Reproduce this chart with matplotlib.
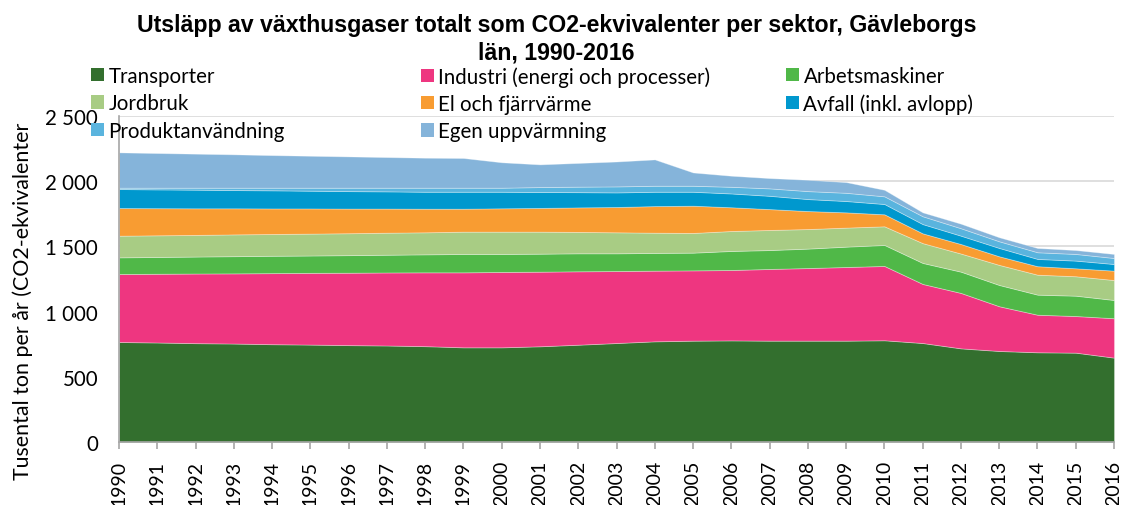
import matplotlib
matplotlib.use("Agg")
import matplotlib.pyplot as plt
from matplotlib.patches import Patch
from matplotlib.ticker import FuncFormatter
import numpy as np

years = list(range(1990, 2017))

transporter = [767, 763, 758, 755, 750, 747, 743, 740, 735, 726, 726, 734, 746, 759,
               772, 777, 779, 777, 777, 777, 780, 759, 718, 698, 688, 685, 647]
industri = [521, 527, 534, 538, 545, 550, 555, 560, 566, 575, 578, 572, 563, 552,
            542, 539, 540, 550, 557, 565, 570, 453, 425, 343, 288, 281, 302]
arbetsmaskiner = [128, 129, 130, 132, 133, 133, 135, 136, 138, 141, 138, 138, 138, 136,
                  136, 136, 146, 145, 149, 156, 161, 161, 163, 163, 154, 156, 140]
jordbruk = [166, 166, 166, 167, 167, 168, 168, 169, 169, 171, 171, 169, 164, 161,
            155, 151, 153, 154, 150, 146, 143, 152, 139, 154, 153, 149, 153]
el_fjarrvarme = [212, 208, 204, 200, 196, 193, 189, 185, 181, 176, 179, 182, 188, 194,
                 204, 209, 182, 160, 138, 117, 92, 75, 73, 66, 65, 61, 72]
avfall = [146, 144, 143, 140, 139, 136, 134, 132, 130, 130, 127, 122, 117, 112,
          110, 107, 106, 102, 92, 87, 79, 71, 64, 64, 56, 59, 51]
produktanvandning = [10, 13, 15, 18, 20, 23, 26, 28, 31, 31, 31, 38, 42, 46,
                     46, 46, 51, 57, 61, 63, 59, 60, 57, 51, 51, 51, 46]
egen_uppvarmning = [271, 266, 261, 256, 250, 245, 240, 235, 230, 228, 195, 174, 182, 191,
                    202, 102, 85, 79, 87, 82, 50, 30, 35, 31, 33, 30, 31]

labels = ["Transporter", "Industri (energi och processer)", "Arbetsmaskiner",
          "Jordbruk", "El och fjärrvärme", "Avfall (inkl. avlopp)",
          "Produktanvändning", "Egen uppvärmning"]
colors = ["#336F2E", "#EE3680", "#50B848", "#A8CC84", "#F89C32", "#0098CE",
          "#5AB4DE", "#85B4DA"]

title = "Utsläpp av växthusgaser totalt som CO2-ekvivalenter per sektor, Gävleborgs\nlän, 1990-2016"
ylabel = "Tusental ton per år (CO2-ekvivalenter"

FONT = ["Lato", "DejaVu Sans"]
plt.rcParams['font.family'] = FONT

fig = plt.figure(figsize=(11.27, 5.06), dpi=100)
ax = fig.add_axes([119/1127, 1 - 443/506, (1114-119)/1127, (443-117)/506])

series = [transporter, industri, arbetsmaskiner, jordbruk, el_fjarrvarme,
          avfall, produktanvandning, egen_uppvarmning]
ax.stackplot(years, *series, colors=colors, linewidth=0.6, edgecolor=(1, 1, 1, 0.35),
             zorder=2)

ax.set_xlim(1990, 2016)
ax.set_ylim(0, 2500)
ax.set_yticks([0, 500, 1000, 1500, 2000, 2500])
ax.yaxis.set_major_formatter(FuncFormatter(lambda v, p: f"{int(v):,}".replace(",", " ")))
ax.set_xticks(years)
ax.set_xticklabels([str(y) for y in years], rotation=90)
ax.grid(axis='y', color="#D9D9D9", linewidth=1.2, zorder=0)
ax.set_axisbelow(True)
for s in ["top", "right"]:
    ax.spines[s].set_visible(False)
for s in ["left", "bottom"]:
    ax.spines[s].set_color("#A6A6A6")
    ax.spines[s].set_linewidth(1.2)
ax.tick_params(axis='y', length=0, pad=15, labelsize=14.8)
ax.tick_params(axis='x', length=5, color="#A6A6A6", width=1.2, pad=8, labelsize=14)

fig.text(556.5/1127, 1 - 39.5/506, title, ha="center", va="center", fontsize=16.7,
         fontweight="bold", family=["Liberation Sans", "DejaVu Sans"], linespacing=1.25)
fig.text(23/1127, 1 - 301/506, ylabel, rotation=90, ha="center", va="center", fontsize=15.4)

handles = [Patch(facecolor=c, edgecolor="none") for c in colors]
cols = [[0, 3, 6], [1, 4, 7], [2, 5]]
xs = [91, 421, 786]
for xi, idx in zip(xs, cols):
    lg = fig.legend([handles[i] for i in idx], [labels[i] for i in idx],
                    loc="upper left", bbox_to_anchor=(xi/1127, 1 - 67/506),
                    frameon=False, fontsize=14.8, handlelength=0.63, handleheight=0.63,
                    handletextpad=0.22, borderpad=0, borderaxespad=0, labelspacing=0.36)

fig.savefig("out.png", dpi=100)
